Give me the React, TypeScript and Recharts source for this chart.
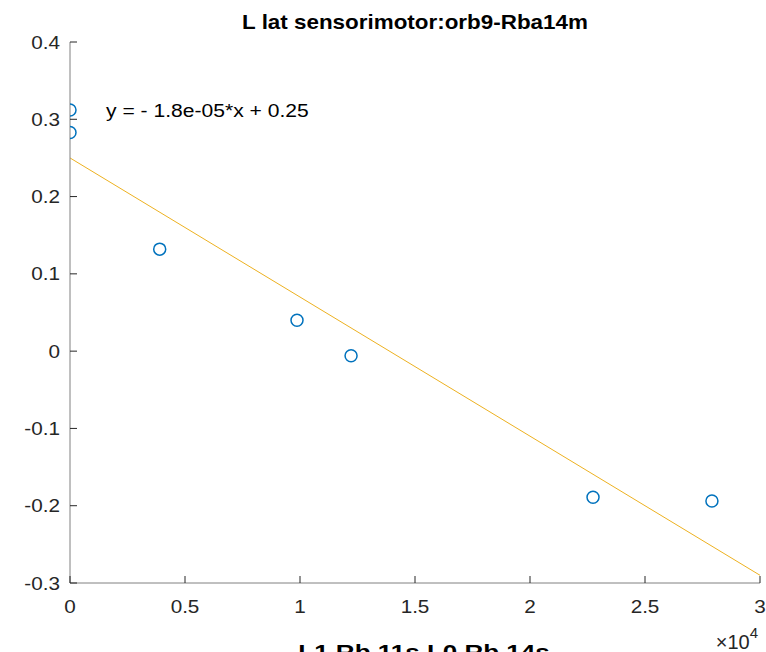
import { ScatterChart, Scatter, XAxis, YAxis, ReferenceLine } from "recharts";

// measured points (x in raw units, shown as x10^4 on the axis)
const xValues = [0, 0, 3900, 9870, 12220, 22740, 27910];
const yValues = [0.312, 0.283, 0.132, 0.04, -0.006, -0.189, -0.194];

const xTicks = [0, 5000, 10000, 15000, 20000, 25000, 30000];
const yTicks = [-0.3, -0.2, -0.1, 0, 0.1, 0.2, 0.3, 0.4];

// linear fit shown on the chart
const fitSlope = -1.8e-5;
const fitIntercept = 0.25;

const TITLE = "L lat sensorimotor:orb9-Rba14m";
const X_LABEL = "L1 Rb 11s L0 Rb 14s";
const EQUATION = "y = - 1.8e-05*x + 0.25";

const FONT = "'Liberation Sans', Arial, Helvetica, sans-serif";
const TEXT = "#262626";
const PAGE_W = 766;
const PAGE_H = 652;
const W = 758;
const H = 644;
const STRETCH = 1.15; // reference font runs wider than Liberation Sans

const points = xValues.map((x, i) => ({ x, y: yValues[i] }));

const fmt = (v: number) => String(parseFloat(v.toFixed(2)));

// text drawn a bit wider, anchored at (x, y)
const WideText = ({ x, y, anchor = "start", size, bold = false, fill = TEXT, sx = STRETCH, children }: any) => (
  <g transform={`translate(${x},${y}) scale(${sx},1)`}>
    <text x={0} y={0} textAnchor={anchor} fontSize={size} fontWeight={bold ? "bold" : "normal"} fill={fill} fontFamily={FONT}>
      {children}
    </text>
  </g>
);

const XTick = (props: any) => {
  const { x, y, payload } = props;
  return (
    <g>
      <line x1={x} y1={y} x2={x} y2={y - 7} stroke={TEXT} strokeWidth={1} />
      <WideText x={x} y={y + 30} anchor="middle" size={18}>
        {fmt(payload.value / 10000)}
      </WideText>
    </g>
  );
};

const YTick = (props: any) => {
  const { x, y, payload } = props;
  return (
    <g>
      <line x1={x} y1={y} x2={x + 7} y2={y} stroke={TEXT} strokeWidth={1} />
      <WideText x={x - 10} y={y + 6.5} anchor="end" size={18}>
        {fmt(payload.value)}
      </WideText>
    </g>
  );
};

const Ring = (props: any) => (
  <circle cx={props.cx} cy={props.cy} r={6} fill="none" stroke="#0072BD" strokeWidth={1.5} />
);

export default function App() {
  return (
    <div style={{ position: "relative", width: PAGE_W, height: PAGE_H, overflow: "hidden", background: "#fff" }}>
      <style>{"html,body{margin:0;overflow:hidden;}"}</style>
      <div style={{ position: "absolute", left: 8, top: 8, width: W, height: H, fontFamily: FONT }}>
        <ScatterChart width={W} height={H} margin={{ top: 34, right: 6, bottom: 0, left: 0 }} style={{ overflow: "visible" }}>
          <XAxis
            type="number"
            dataKey="x"
            domain={[0, 30000]}
            ticks={xTicks}
            height={69}
            tickSize={0}
            tickMargin={0}
            tickLine={false}
            axisLine={{ stroke: "#808080", strokeWidth: 1 }}
            tick={<XTick />}
            allowDataOverflow
            interval={0}
          />
          <YAxis
            type="number"
            dataKey="y"
            domain={[-0.3, 0.4]}
            ticks={yTicks}
            width={62}
            tickSize={0}
            tickMargin={0}
            tickLine={false}
            axisLine={{ stroke: "#808080", strokeWidth: 1 }}
            tick={<YTick />}
            allowDataOverflow
            interval={0}
          />
          <ReferenceLine
            segment={[
              { x: 0, y: fitIntercept },
              { x: 30000, y: fitIntercept + fitSlope * 30000 },
            ]}
            stroke="#EDB120"
            strokeWidth={1}
            ifOverflow="visible"
          />
          <Scatter data={points} shape={<Ring />} isAnimationActive={false} />
        </ScatterChart>
        <svg width={W} height={H + 20} style={{ position: "absolute", left: 0, top: 0, pointerEvents: "none", overflow: "visible" }}>
          <WideText x={407} y={21} anchor="middle" size={19.5} bold fill="#000">
            {TITLE}
          </WideText>
          <WideText x={98} y={109} size={18.5} fill="#000" sx={1.14}>
            {EQUATION}
          </WideText>
          <text x={750} y={641} textAnchor="end" fontSize={20} fill={TEXT} fontFamily={FONT}>
            <tspan>×10</tspan>
            <tspan dy={-11} fontSize={15}>4</tspan>
          </text>
          <WideText x={416} y={651} anchor="middle" size={20} bold fill="#000" sx={1.3}>
            {X_LABEL}
          </WideText>
        </svg>
      </div>
    </div>
  );
}
